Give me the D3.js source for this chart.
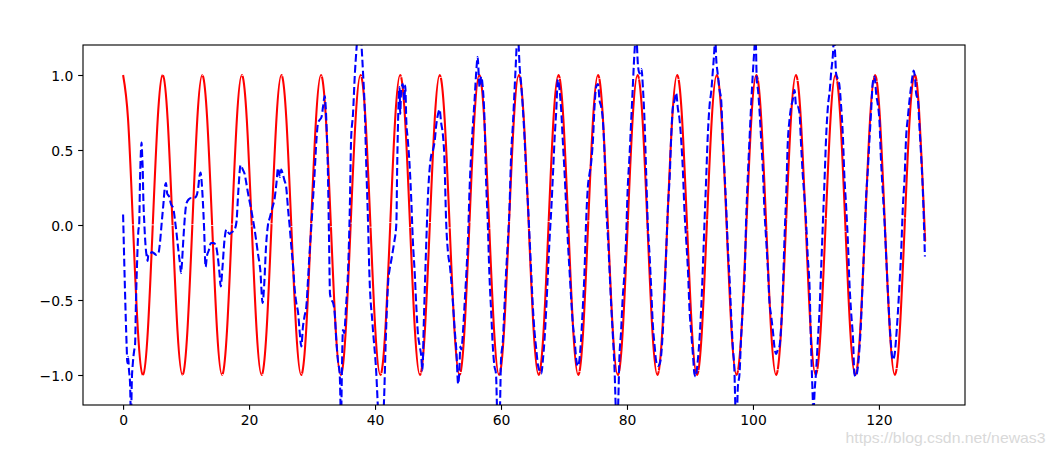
<!DOCTYPE html>
<html>
<head>
<meta charset="utf-8">
<script src="https://cdn.jsdelivr.net/npm/d3@7"></script>
<style>
  html, body { margin: 0; padding: 0; background: #ffffff; }
  svg { display: block; }
  text { font-family: "DejaVu Sans", sans-serif; }
</style>
</head>
<body>
<svg id="chart" width="1055" height="452"></svg>
<script>
// ---------------- data ----------------
const xTicks = [0, 20, 40, 60, 80, 100, 120];
const yTicks = [-1.0, -0.5, 0.0, 0.5, 1.0];
const xExtent = [0, 127.3];
const yLimits = [-1.2, 1.2];

// target (red) curve, read at 1/8-period points
const redX = [0,0.785,1.571,2.356,3.142,3.927,4.712,5.498,6.283,7.069,7.854,8.639,9.425,10.21,10.996,11.781,
  12.566,13.352,14.137,14.923,15.708,16.493,17.279,18.064,18.85,19.635,20.42,21.206,21.991,22.777,23.562,24.347,
  25.133,25.918,26.704,27.489,28.274,29.06,29.845,30.631,31.416,32.201,32.987,33.772,34.558,35.343,36.128,36.914,
  37.699,38.485,39.27,40.055,40.841,41.626,42.412,43.197,43.982,44.768,45.553,46.338,47.124,47.909,48.695,49.48,
  50.265,51.051,51.836,52.622,53.407,54.192,54.978,55.763,56.549,57.334,58.119,58.905,59.69,60.476,61.261,62.046,
  62.832,63.617,64.403,65.188,65.973,66.759,67.544,68.33,69.115,69.9,70.686,71.471,72.257,73.042,73.827,74.613,
  75.398,76.184,76.969,77.754,78.54,79.325,80.111,80.896,81.681,82.467,83.252,84.038,84.823,85.608,86.394,87.179,
  87.965,88.75,89.535,90.321,91.106,91.892,92.677,93.462,94.248,95.033,95.819,96.604,97.389,98.175,98.96,99.746,
  100.531,101.316,102.102,102.887,103.673,104.458,105.243,106.029,106.814,107.6,108.385,109.17,109.956,110.741,111.527,112.312,
  113.097,113.883,114.668,115.454,116.239,117.024,117.81,118.595,119.381,120.166,120.951,121.737,122.522,123.308,124.093,124.878,
  125.664,126.449,127.235,127.3];
const redY = [
  1,0.707,0,-0.707,-1,-0.707,0,0.707, 1,0.707,0,-0.707,-1,-0.707,0,0.707,
  1,0.707,0,-0.707,-1,-0.707,0,0.707, 1,0.707,0,-0.707,-1,-0.707,0,0.707,
  1,0.707,0,-0.707,-1,-0.707,0,0.707, 1,0.707,0,-0.707,-1,-0.707,0,0.707,
  1,0.707,0,-0.707,-1,-0.707,0,0.707, 1,0.707,0,-0.707,-1,-0.707,0,0.707,
  1,0.707,0,-0.707,-1,-0.707,0,0.707, 1,0.707,0,-0.707,-1,-0.707,0,0.707,
  1,0.707,0,-0.707,-1,-0.707,0,0.707, 1,0.707,0,-0.707,-1,-0.707,0,0.707,
  1,0.707,0,-0.707,-1,-0.707,0,0.707, 1,0.707,0,-0.707,-1,-0.707,0,0.707,
  1,0.707,0,-0.707,-1,-0.707,0,0.707, 1,0.707,0,-0.707,-1,-0.707,0,0.707,
  1,0.707,0,-0.707,-1,-0.707,0,0.707, 1,0.707,0,-0.707,-1,-0.707,0,0.707,
  1,0.707,0,-0.707,-1,-0.707,0,0.707, 1,0.707,0,-0.707,-1,-0.707,0,0.707,
  1,0.707,0,-0.065];

// prediction (blue dashed) curve: [x, y]
const bluePoints = [
[0.00,0.07],[0.57,-0.81],[0.67,-0.92],[0.80,-0.88],[0.94,-0.97],[1.10,-1.05],[1.25,-1.28],[1.40,-1.02],[1.55,-0.92],[1.75,-0.84],
[1.90,-0.80],[2.05,-0.50],[2.20,-0.28],[2.42,-0.04],[2.55,0.00],[2.70,0.32],[2.84,0.50],[2.93,0.55],[3.05,0.44],[3.12,0.37],
[3.20,0.20],[3.37,0.01],[3.57,-0.14],[3.75,-0.21],[3.90,-0.24],[4.00,-0.20],[4.25,-0.20],[4.55,-0.18],[4.95,-0.19],[5.30,-0.20],
[5.60,-0.19],[5.85,-0.12],[6.12,0.01],[6.40,0.14],[6.65,0.26],[6.82,0.28],[7.00,0.21],[7.30,0.19],[7.60,0.14],[7.98,0.11],
[8.24,0.03],[8.50,-0.06],[8.78,-0.17],[9.04,-0.26],[9.20,-0.32],[9.30,-0.28],[9.56,-0.10],[9.82,0.06],[10.04,0.14],[10.40,0.17],
[10.80,0.18],[11.20,0.18],[11.60,0.19],[11.90,0.24],[12.15,0.33],[12.30,0.35],[12.45,0.30],[12.65,0.17],[12.85,-0.01],[13.10,-0.28],
[13.30,-0.21],[13.60,-0.17],[13.95,-0.12],[14.40,-0.12],[14.75,-0.14],[15.00,-0.20],[15.30,-0.32],[15.50,-0.41],[15.75,-0.30],[16.10,-0.10],
[16.40,-0.03],[16.90,-0.06],[17.18,-0.05],[17.70,-0.03],[18.00,0.02],[18.30,0.23],[18.66,0.40],[19.00,0.37],[19.30,0.34],[19.56,0.28],
[19.80,0.22],[20.35,0.10],[20.88,-0.03],[21.41,-0.19],[21.78,-0.30],[22.15,-0.52],[22.40,-0.40],[22.70,-0.14],[23.00,0.00],[23.30,0.05],
[23.60,0.10],[24.10,0.19],[24.35,0.28],[24.60,0.38],[24.90,0.32],[25.10,0.37],[25.35,0.34],[25.60,0.30],[25.90,0.25],[26.20,0.10],
[26.45,-0.01],[26.70,-0.14],[27.00,-0.28],[27.25,-0.43],[27.50,-0.52],[27.80,-0.59],[28.05,-0.72],[28.30,-0.81],[28.55,-0.68],[28.80,-0.61],
[29.10,-0.54],[29.35,-0.37],[29.60,-0.19],[29.90,0.00],[30.15,0.17],[30.40,0.34],[30.70,0.57],[30.95,0.68],[31.20,0.70],[31.50,0.72],
[31.75,0.79],[32.00,0.86],[32.30,0.66],[32.50,0.39],[32.70,-0.10],[32.85,-0.46],[33.10,-0.50],[33.35,-0.52],[33.60,-0.59],[33.85,-0.77],
[34.10,-0.90],[34.40,-1.00],[34.60,-1.30],[34.75,-0.95],[34.90,-0.70],[35.10,-0.72],[35.40,-0.54],[35.70,-0.32],[36.00,0.12],[36.20,0.57],
[36.50,0.74],[36.80,1.01],[37.05,1.17],[37.40,1.35],[37.70,1.30],[37.85,1.20],[38.10,1.01],[38.35,0.79],[38.60,0.41],[38.90,0.00],
[39.10,-0.32],[39.60,-0.66],[40.20,-0.99],[40.50,-1.25],[40.90,-1.45],[41.40,-1.20],[41.70,-0.77],[41.90,-0.54],[42.10,-0.37],[42.30,-0.30],
[42.60,-0.23],[43.10,-0.10],[43.25,-0.06],[43.40,0.03],[43.50,0.34],[43.65,0.68],[43.80,0.88],[43.90,0.92],[44.00,0.74],[44.15,0.90],
[44.40,0.94],[44.65,0.83],[44.80,0.93],[44.96,0.70],[45.20,0.57],[45.50,0.39],[45.75,0.17],[46.00,-0.10],[46.30,-0.32],[46.55,-0.54],
[46.80,-0.72],[47.10,-0.81],[47.35,-0.88],[47.50,-0.97],[47.60,-0.90],[47.70,-0.72],[47.90,-0.43],[48.15,-0.10],[48.40,0.19],[48.70,0.39],
[48.90,0.46],[49.20,0.50],[49.50,0.57],[49.70,0.66],[50.00,0.74],[50.25,0.77],[50.50,0.68],[50.75,0.61],[51.00,0.46],[51.30,0.01],
[51.60,-0.19],[51.90,-0.28],[52.10,-0.37],[52.40,-0.54],[52.65,-0.70],[52.90,-0.83],[53.20,-1.06],[53.35,-1.00],[53.55,-0.81],[53.70,-0.83],
[53.95,-0.72],[54.20,-0.54],[54.50,-0.32],[54.75,-0.10],[55.00,0.23],[55.30,0.50],[55.55,0.68],[55.80,0.83],[56.05,1.01],[56.30,1.12],
[56.45,1.01],[56.60,0.92],[56.85,0.99],[57.10,0.92],[57.40,0.68],[57.60,0.34],[57.90,0.01],[58.15,-0.32],[58.45,-0.59],[58.70,-0.81],
[58.95,-0.94],[59.20,-0.99],[59.45,-1.30],[59.80,-1.25],[60.00,-0.90],[60.30,-0.77],[60.55,-0.54],[60.80,-0.32],[61.10,-0.10],[61.35,0.12],
[61.60,0.46],[61.90,0.68],[62.15,0.90],[62.40,1.12],[62.50,1.22],[62.65,1.35],[62.80,1.20],[62.95,1.06],[63.20,0.94],[63.45,0.79],
[63.75,0.57],[64.00,0.34],[64.30,0.12],[64.55,-0.10],[64.80,-0.32],[65.05,-0.54],[65.30,-0.70],[65.60,-0.83],[65.85,-0.93],[66.10,-0.97],
[66.40,-0.99],[66.65,-0.90],[66.90,-0.77],[67.20,-0.54],[67.45,-0.32],[67.70,-0.10],[68.00,0.12],[68.25,0.34],[68.50,0.57],[68.80,0.79],
[68.95,0.94],[69.05,0.97],[69.30,0.90],[69.55,0.77],[69.80,0.57],[70.10,0.34],[70.35,0.12],[70.65,-0.14],[70.90,-0.32],[71.15,-0.50],
[71.40,-0.66],[71.70,-0.77],[71.95,-0.90],[72.20,-0.94],[72.45,-0.90],[72.70,-0.77],[73.00,-0.54],[73.25,-0.32],[73.50,0.01],[73.80,0.26],
[74.05,0.34],[74.30,0.41],[74.60,0.57],[74.85,0.79],[75.10,0.92],[75.40,0.94],[75.65,0.83],[75.90,0.79],[76.20,0.68],[76.45,0.46],
[76.70,0.12],[77.00,-0.10],[77.25,-0.32],[77.50,-0.54],[77.80,-0.77],[78.05,-0.99],[78.20,-1.20],[78.40,-1.40],[78.60,-1.20],[78.80,-0.88],
[79.05,-0.72],[79.30,-0.50],[79.60,-0.32],[79.85,-0.10],[80.10,0.23],[80.40,0.46],[80.65,0.68],[80.90,0.90],[81.15,1.12],[81.30,1.22],
[81.45,1.28],[81.75,1.06],[82.00,1.01],[82.30,1.04],[82.55,0.90],[82.80,0.68],[83.05,0.34],[83.30,0.01],[83.60,-0.21],[83.85,-0.43],
[84.10,-0.66],[84.40,-0.81],[84.60,-0.90],[84.90,-0.94],[85.15,-0.93],[85.40,-0.88],[85.75,-0.66],[86.20,-0.21],[86.50,0.12],[86.80,0.34],
[87.00,0.57],[87.30,0.79],[87.55,0.83],[87.80,0.88],[88.10,0.77],[88.30,0.72],[88.60,0.57],[88.90,0.34],[89.10,0.12],[89.40,-0.10],
[89.70,-0.32],[89.90,-0.54],[90.20,-0.72],[90.50,-0.88],[90.70,-0.99],[90.90,-1.01],[91.25,-0.90],[91.50,-0.77],[91.80,-0.54],[92.05,-0.28],
[92.30,0.01],[92.60,0.34],[92.80,0.57],[93.10,0.79],[93.40,0.90],[93.60,1.01],[93.90,1.19],[94.00,1.28],[94.15,1.12],[94.40,1.01],
[94.70,0.90],[94.96,0.83],[95.20,0.57],[95.50,0.34],[95.75,0.12],[96.00,-0.14],[96.30,-0.37],[96.55,-0.61],[96.80,-0.81],[97.07,-0.99],
[97.20,-1.20],[97.40,-1.35],[97.60,-1.08],[97.87,-0.99],[98.10,-0.77],[98.40,-0.54],[98.70,-0.32],[98.90,0.01],[99.20,0.34],[99.45,0.57],
[99.70,0.79],[99.98,1.01],[100.25,1.19],[100.40,1.30],[100.60,0.97],[100.80,0.90],[101.00,0.79],[101.30,0.57],[101.60,0.34],[101.80,0.12],
[102.10,-0.10],[102.40,-0.32],[102.60,-0.50],[102.90,-0.61],[103.20,-0.72],[103.40,-0.81],[103.70,-0.86],[103.95,-0.83],[104.20,-0.81],[104.50,-0.66],
[104.75,-0.43],[105.00,-0.10],[105.30,0.23],[105.50,0.52],[105.80,0.70],[106.07,0.79],[106.30,0.83],[106.60,0.90],[106.86,0.79],[107.10,0.79],
[107.40,0.74],[107.60,0.57],[107.90,0.34],[108.20,0.17],[108.45,0.01],[108.70,-0.21],[109.00,-0.43],[109.20,-0.77],[109.45,-1.10],[109.60,-1.25],
[109.80,-1.10],[110.00,-0.99],[110.30,-0.77],[110.60,-0.54],[110.80,-0.32],[111.10,0.01],[111.40,0.34],[111.60,0.57],[111.90,0.79],[112.20,0.90],
[112.40,1.01],[112.70,1.14],[112.85,1.25],[113.05,1.14],[113.20,1.01],[113.50,0.97],[113.70,0.94],[114.00,0.79],[114.30,0.57],[114.50,0.34],
[114.80,0.12],[115.10,-0.14],[115.30,-0.37],[115.60,-0.59],[115.90,-0.77],[116.10,-0.99],[116.30,-1.01],[116.50,-0.99],[116.90,-0.83],[117.20,-0.61],
[117.40,-0.39],[117.70,-0.10],[117.97,0.19],[118.20,0.34],[118.50,0.57],[118.80,0.79],[119.00,0.94],[119.30,0.99],[119.60,0.86],[119.80,0.81],
[120.10,0.68],[120.30,0.46],[120.60,0.23],[120.90,0.01],[121.15,-0.21],[121.40,-0.43],[121.70,-0.66],[121.94,-0.81],[122.20,-0.90],[122.50,-0.86],
[122.70,-0.77],[123.00,-0.59],[123.30,-0.37],[123.50,-0.21],[123.80,0.12],[124.10,0.34],[124.30,0.57],[124.60,0.72],[124.85,0.83],[125.10,0.92],
[125.40,1.01],[125.50,1.03],[125.75,0.97],[125.90,0.88],[126.20,0.83],[126.40,0.68],[126.70,0.46],[126.97,0.23],[127.30,-0.21]
];
const watermarkText = "https://blog.csdn.net/newas3";

// ---------------- drawing ----------------
const W = 1055, H = 452;
const plot = { left: 83, right: 965, top: 45, bottom: 405 };
const pad = (xExtent[1] - xExtent[0]) * 0.05;

const x = d3.scaleLinear().domain([xExtent[0] - pad, xExtent[1] + pad]).range([plot.left, plot.right]);
const y = d3.scaleLinear().domain(yLimits).range([plot.bottom, plot.top]);

const svg = d3.select("#chart");
svg.append("rect").attr("width", W).attr("height", H).attr("fill", "#ffffff");

svg.append("defs").append("clipPath").attr("id", "clip")
  .append("rect")
  .attr("x", plot.left).attr("y", plot.top)
  .attr("width", plot.right - plot.left).attr("height", plot.bottom - plot.top);

const lineGroup = svg.append("g").attr("clip-path", "url(#clip)");

const redData = redX.map((d, i) => [d, redY[i]]);
const redLine = d3.line().x(d => x(d[0])).y(d => y(d[1])).curve(d3.curveNatural);
// solid red line; the tiny gaps mimic the faint seams between plotted pieces in the original
lineGroup.append("path")
  .datum(redData)
  .attr("d", redLine)
  .attr("fill", "none")
  .attr("stroke", "#ff0000")
  .attr("stroke-width", 2.08)
  .attr("stroke-dasharray", "150 0.7")
  .attr("stroke-linejoin", "round");

const blueLine = d3.line().x(d => x(d[0])).y(d => y(d[1])).curve(d3.curveMonotoneX);
lineGroup.append("path")
  .datum(bluePoints)
  .attr("d", blueLine)
  .attr("fill", "none")
  .attr("stroke", "#0000ff")
  .attr("stroke-width", 2.08)
  .attr("stroke-dasharray", "7.7 3.33")
  .attr("stroke-linejoin", "round");

// axes
const tickLen = 4.86, tickPad = 4.86, fontSize = 13.9;
const xAxis = d3.axisBottom(x).tickValues(xTicks).tickFormat(d3.format("d"))
  .tickSizeInner(tickLen).tickSizeOuter(0).tickPadding(tickPad);
const yAxis = d3.axisLeft(y).tickValues(yTicks).tickFormat(d3.format(".1f"))
  .tickSizeInner(tickLen).tickSizeOuter(0).tickPadding(tickPad);

const gx = svg.append("g").attr("transform", `translate(0,${plot.bottom})`).call(xAxis);
const gy = svg.append("g").attr("transform", `translate(${plot.left},0)`).call(yAxis);

[gx, gy].forEach(g => {
  g.select(".domain").remove();
  g.selectAll(".tick line").attr("stroke", "#000").attr("stroke-width", 1.11);
  g.selectAll(".tick text")
    .attr("fill", "#000")
    .style("font-family", "'DejaVu Sans', sans-serif")
    .style("font-size", fontSize + "px");
});
gx.selectAll(".tick text").attr("dy", null).attr("y", 20);
gy.selectAll(".tick text").attr("dy", null).attr("y", 5.1);

// frame (spines)
svg.append("rect")
  .attr("x", plot.left).attr("y", plot.top)
  .attr("width", plot.right - plot.left).attr("height", plot.bottom - plot.top)
  .attr("fill", "none").attr("stroke", "#000").attr("stroke-width", 1.11);

// watermark
svg.append("text")
  .attr("x", 845.5).attr("y", 442.5)
  .attr("textLength", 200)
  .attr("lengthAdjust", "spacingAndGlyphs")
  .style("font-family", "'Liberation Sans', Arial, sans-serif")
  .style("font-size", "15px")
  .attr("fill", "#d9d9d9")
  .text(watermarkText);
</script>
</body>
</html>
